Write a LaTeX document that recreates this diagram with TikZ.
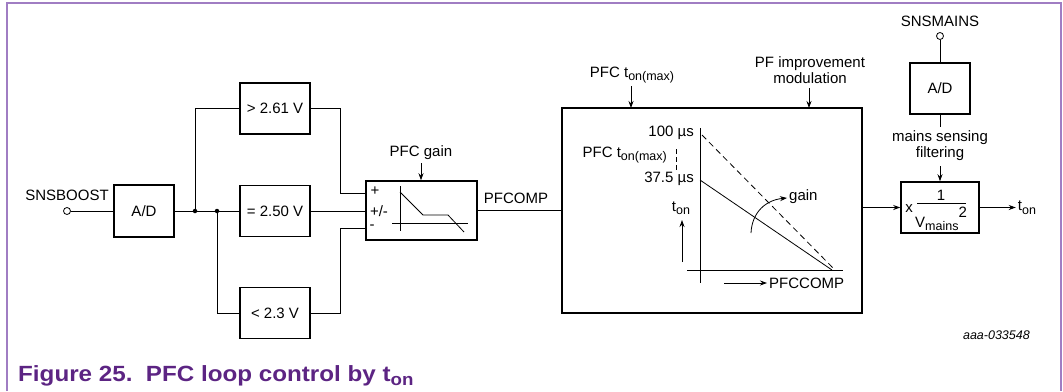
\documentclass[tikz,border=0pt]{standalone}
\usepackage{fontspec}
\setmainfont{Liberation Sans}
\newfontfamily\capfont[FakeStretch=1.1]{Liberation Sans}
\usetikzlibrary{arrows.meta}
\definecolor{framecol}{RGB}{160,125,195}
\definecolor{capcol}{RGB}{92,36,131}
\newcommand\dn[1]{\raisebox{-0.45ex}{\fontsize{12.5}{12.5}\selectfont #1}}
\begin{document}
\begin{tikzpicture}[x=1pt,y=-1pt,
  blk/.style={draw,line width=1.5pt,inner sep=0pt},
  conn/.style={line width=0.8pt},
  arr/.style={conn,-{Stealth[length=7pt,width=5pt]}},
  lbl/.style={inner sep=0pt},
  dot/.style={circle,fill,inner sep=0pt,minimum size=4.5pt},
  port/.style={circle,draw,line width=0.8pt,fill=white,inner sep=0pt,minimum size=7pt},
  every node/.style={font=\fontsize{15}{16}\selectfont}
]
\useasboundingbox (0,0) rectangle (1063,391);
\draw[framecol,line width=1.3pt] (7,391) -- (7,3) -- (1061,3) -- (1061,391);

% left part
\node[lbl] (tsnsb) at (67,195) {SNSBOOST};
\node[blk,minimum width=60pt,minimum height=52pt] (ad1) at (144,211) {A/D};
\node[dot] (j1) at (195,211) {};
\node[dot] (j2) at (217,211) {};
\node[blk,minimum width=70pt,minimum height=51pt] (b1) at (275,108.5) {> 2.61 V};
\node[blk,minimum width=70pt,minimum height=51pt] (b2) at (275,211) {= 2.50 V};
\node[blk,minimum width=70pt,minimum height=51pt] (b3) at (275,313) {< 2.3 V};

% gain block
\node[blk,minimum width=111pt,minimum height=59pt] (gain) at (421.5,210.5) {};
\node[lbl] (gp) at (375,191) {+};
\node[lbl] (gpm) at (379,211) {+/-};
\node[lbl] (gm) at (372,227) {-};
\draw[conn] (400,186) -- (400,231);
\draw[conn] (392,223) -- (468,223);
\draw[conn] (400,192) -- (423,215) -- (448,215) -- (464,232);
\node[lbl] (tgain) at (421,153) {PFC gain};
\coordinate (g1) at (366,193);
\coordinate (g3) at (366,228);

\node[port] (pin1) at (67,211) {};
\draw[conn] (pin1) -- (ad1);
\draw[conn] (ad1.east) -- (b2.west);
\draw[conn] (j1.center) |- (b1.west);
\draw[conn] (j2.center) |- (b3.west);
\draw[conn] (b1.east) -| (340,193) -- (g1);
\draw[conn] (b3.east) -| (340,228) -- (g3);
\draw[conn] (b2.east) -- (b2.east -| gain.west);
\draw[arr] ([yshift=-3pt]tgain.south) -- (tgain.south |- gain.north);

% big block
\node[blk,minimum width=300pt,minimum height=205pt] (big) at (712,210.5) {};
\draw[conn] (gain.east) -- (big.west);
\node[lbl] (tpfcomp) at (516,198) {PFCOMP};
\node[lbl] (ttmax) at (632,75) {PFC t\dn{on(max)}};
\draw[arr] (631,86) -- (631,108);
\node[lbl,align=center] (tpfim) at (810,70) {PF improvement\\modulation};
\draw[arr] (809,88) -- (809,108);

\draw[conn] (700,128) -- (700,283);
\draw[conn] (687,270) -- (843,270);
\draw[conn,dashed,dash pattern=on 6pt off 4pt] (702,135) -- (835,270);
\draw[conn] (700,180) -- (832,270);
\node[lbl,anchor=east] (t100) at (694,133) {100 µs};
\node[lbl,anchor=east] (ttmax2) at (667,155) {PFC t\dn{on(max)}};
\draw[conn,dashed,dash pattern=on 5pt off 3pt] (676,149) -- (676,170);
\node[lbl,anchor=east] (t375) at (694,179) {37.5 µs};
\node[lbl] (tton) at (681,208) {t\dn{on}};
\draw[arr] (682,262) -- (682,220);
\draw[arr] (724,283) -- (767,283);
\node[lbl,anchor=west] (tpfccomp) at (769,283) {PFCCOMP};
\draw[arr] (751,233) .. controls (752,212) and (766,200) .. (787,198);
\node[lbl,anchor=west] (tgain2) at (789,197) {gain};

% right part
\node[lbl] (tsnsm) at (940,21) {SNSMAINS};
\node[port] (pin2) at (940,36) {};
\node[blk,minimum width=60pt,minimum height=51pt] (ad2) at (940,88.5) {A/D};
\draw[conn] (pin2) -- (ad2);
\node[lbl,align=center] (tmsf) at (940,145.5) {mains sensing\\filtering};
\coordinate (adend) at (940,127);
\draw[conn] (ad2.south) -- (adend);
\node[blk,minimum width=78pt,minimum height=51pt] (mult) at (940,207.5) {};
\coordinate (msfend) at (940,166);
\draw[arr] (msfend) -- (mult.north);
\draw[arr] (mult.west -| big.east) -- (mult.west);
\draw[arr] (mult.east) -- ++(36,0) coordinate (tout);
\node[lbl,anchor=west] (ttout) at ([xshift=2pt]tout) {t\dn{on}};
\node[lbl] (mx) at (909,209) {x};
\node[lbl] (mone) at (941,195) {1};
\draw[conn] (917,203) -- (966,203);
\node[lbl,anchor=base] (mv) at (941,227) {V\dn{mains}\raisebox{1.2ex}{2}};

% labels
\node[lbl,anchor=east,font=\fontsize{12.5}{14}\selectfont\itshape] (tid) at (1030,335) {aaa-033548};
\node[lbl,anchor=base west,text=capcol,font=\capfont\bfseries\fontsize{22}{24}\selectfont] (tcap) at (18,381) {Figure 25.\ \ PFC loop control by t\raisebox{-0.4ex}{\fontsize{17}{17}\selectfont on}};
\end{tikzpicture}
\end{document}
